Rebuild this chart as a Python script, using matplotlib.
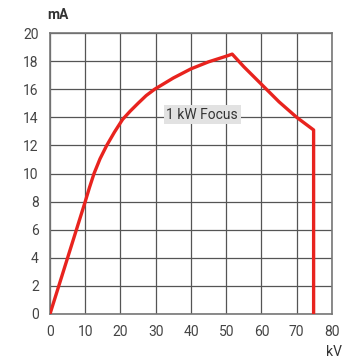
import matplotlib.pyplot as plt

# values
kv = [0, 5, 10, 11.2, 12.5, 14.2, 16.1, 18.3, 20.6, 22.8, 25, 27.3, 29.7, 35, 40, 45, 50, 51.7, 55, 60, 65, 70, 74.8, 74.8]
ma = [0, 4, 8, 9.0, 10.0, 11.05, 12.0, 12.95, 13.85, 14.45, 15.0, 15.55, 16.0, 16.8, 17.45, 17.95, 18.35, 18.5, 17.6, 16.35, 15.1, 14.0, 13.1, 0]

x_ticks = list(range(0, 81, 10))
y_ticks = list(range(0, 21, 2))

plt.rcParams['font.family'] = ['Liberation Sans Narrow', 'Roboto', 'DejaVu Sans']

fig = plt.figure(figsize=(3.52, 3.63), dpi=100)
ax = fig.add_axes([0.142, 0.135, 0.801, 0.774])

ax.plot(kv, ma, color="#e8231e", linewidth=2.4, solid_joinstyle="round", zorder=3)

ax.set_xlim(0, 80)
ax.set_ylim(0, 20)
ax.set_xticks(x_ticks)
ax.set_yticks(y_ticks)
ax.grid(True, color="#555555", linewidth=0.9)
ax.tick_params(length=0, labelsize=10, colors="#444444", pad=8)
for s in ax.spines.values():
    s.set_color("#777777")
    s.set_linewidth(1.2)

ax.text(33, 14.2, "1 kW Focus", fontsize=10, color="#333333", va="center",
        bbox=dict(facecolor="#e2e2e2", edgecolor="none", pad=2), zorder=4)

fig.text(0.135, 0.958, "mA", fontsize=10, fontweight="bold", color="#333333", va="center")
fig.text(0.925, 0.03, "kV", fontsize=10, color="#333333", va="center")

fig.savefig("out.png", dpi=100)
